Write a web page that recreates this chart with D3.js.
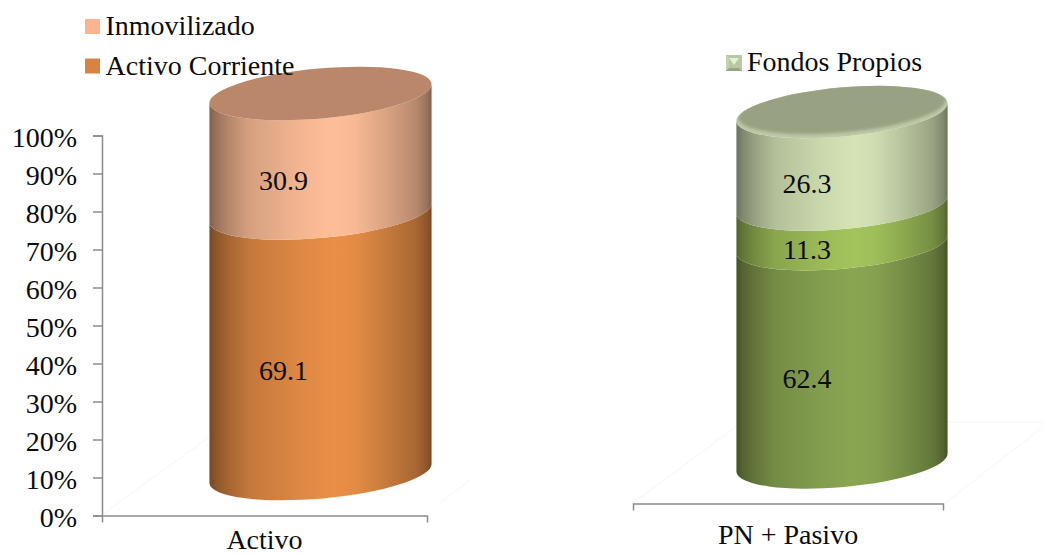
<!DOCTYPE html>
<html><head><meta charset="utf-8">
<script src="https://cdn.jsdelivr.net/npm/d3@7"></script>
<style>html,body{margin:0;padding:0;background:#fff;overflow:hidden}
text{font-family:"Liberation Serif","DejaVu Serif",serif;fill:#0c0c0c}</style></head>
<body><svg id="c" width="1043" height="555"></svg>
<script>
const yTicks = [0,10,20,30,40,50,60,70,80,90,100];
const activoCategory = ["Activo"];
const pasivoCategory = ["PN + Pasivo"];
const activoSeries = ["Activo Corriente","Inmovilizado"];
const activoValues = [69.1,30.9];
const activoColors = ["#e98f47","#ffbe98"];
const pasivoSeries = ["Pasivo","Pasivo Corriente","Fondos Propios"];
const pasivoValues = [62.4,11.3,26.3];
const pasivoColors = ["#8aa552","#a3c45c","#d5e3b6"];
const shadeStops = [[0,.5],[.03,.6],[.08,.7],[.18,.84],[.4,.95],[.56,1],[.66,.97],[.8,.85],[.93,.72],[.98,.6],[1,.5]];

const svg = d3.select("#c");
const defs = svg.append("defs");
const AXIS = "#8c8c8c", FS = 28, TILT = 5.1;
defs.append("filter").attr("id","soft").attr("x","-5%").attr("y","-15%").attr("width","110%").attr("height","130%")
  .append("feGaussianBlur").attr("stdDeviation",1.6);

function gradient(id,color){
  const g = defs.append("linearGradient").attr("id",id);
  const c = d3.rgb(color);
  shadeStops.forEach(([o,k])=>g.append("stop").attr("offset",o)
    .attr("stop-color",d3.rgb(c.r*k,c.g*k,c.b*k).formatHex()));
}
function faint(pts){
  svg.append("path").attr("d",d3.line()(pts)).attr("fill","none")
    .attr("stroke","#f4f4f4").attr("stroke-width",1);
}
faint([[103,514],[209,437]]); faint([[440,503],[470,480]]);
faint([[633,503],[736,427]]); faint([[945,503],[1043,427]]); faint([[948,422],[1043,422]]);

function cylinder(o){
  const y = d3.scaleLinear().domain([0,100]).range([o.bottom,o.top]);
  const r = o.rx, ry = o.ry, t = TILT*Math.PI/180;
  const dx = r*Math.cos(t), dy = r*Math.sin(t);
  const lowerArc = (cy,rev)=> rev
    ? `A${r},${ry} ${-TILT} 0 1 ${o.cx-dx},${cy+dy}`
    : `A${r},${ry} ${-TILT} 0 0 ${o.cx+dx},${cy-dy}`;
  let acc = 0;
  const bands = o.values.map((v,i)=>{
    const b = {v,i,y0:y(acc)+(i?o.nudge:0)};
    acc += v;
    b.y1 = y(acc)+(i<o.values.length-1?o.nudge:0);
    b.labelY = (b.y0+b.y1)/2 + o.labelOffset;
    return b;
  });
  o.colors.forEach((c,i)=>gradient(o.id+i,c));
  svg.append("g").selectAll("path").data(bands).join("path")
    .attr("d",b=>`M${o.cx-dx},${b.y1+dy}${lowerArc(b.y1,false)}L${o.cx+dx},${b.y0-dy}${lowerArc(b.y0,true)}Z`)
    .attr("fill",b=>`url(#${o.id}${b.i})`);
  const top = bands[bands.length-1].y1;
  const rot = `rotate(${-TILT} ${o.cx} ${top})`;
  svg.append("ellipse").attr("cx",o.cx).attr("cy",top).attr("rx",r).attr("ry",ry)
    .attr("transform",rot).attr("fill",o.rim || o.cap);
  if(o.rim){
    const cid = o.id+"clip";
    defs.append("clipPath").attr("id",cid).append("ellipse").attr("cx",o.cx).attr("cy",top).attr("rx",r).attr("ry",ry).attr("transform",rot);
    svg.append("g").attr("clip-path",`url(#${cid})`).append("ellipse")
      .attr("cx",o.cx).attr("cy",top-3).attr("rx",r-2).attr("ry",ry-1)
      .attr("transform",`rotate(${-TILT} ${o.cx} ${top-3})`).attr("fill",o.cap).attr("filter","url(#soft)");
  }
  svg.append("g").selectAll("text").data(bands).join("text")
    .attr("x",o.cx-o.labelShift).attr("y",b=>b.labelY).attr("dy","0.35em")
    .attr("text-anchor","middle").attr("font-size",FS).text(b=>b.v.toFixed(1));
}
cylinder({id:"a",cx:320.5,rx:111.5,ry:25,top:93.5,bottom:473.5,nudge:2,labelOffset:27,labelShift:37,values:activoValues,colors:activoColors,cap:"#ba876a"});
cylinder({id:"p",cx:842,rx:106,ry:24.5,top:112,bottom:462.5,nudge:0.5,labelOffset:24.5,labelShift:35,values:pasivoValues,colors:pasivoColors,cap:"#98a283",rim:"#bcc8a6"});

function styleAxis(g){
  g.selectAll("path,line").attr("stroke",AXIS).attr("stroke-width",1.5);
  g.selectAll("text").attr("font-size",FS).attr("fill","#0c0c0c")
    .style("font-family",'"Liberation Serif","DejaVu Serif",serif');
}
const yAxisScale = d3.scaleLinear().domain([0,100]).range([515.5,135.5]);
svg.append("g").attr("transform","translate(102,0)")
  .call(d3.axisLeft(yAxisScale).tickValues(yTicks).tickFormat(d=>d+"%").tickSize(9).tickSizeOuter(9).tickPadding(16))
  .call(styleAxis).selectAll("text").attr("dy","0.41em");
const xA = d3.scaleBand().domain(activoCategory).range([102,427]);
svg.append("g").attr("transform","translate(0,515.5)")
  .call(d3.axisBottom(xA).tickSize(0).tickSizeOuter(7).tickPadding(13))
  .call(styleAxis).selectAll("text").attr("dy","0.72em");
const xP = d3.scaleBand().domain(pasivoCategory).range([633,943]);
svg.append("g").attr("transform","translate(0,503.5)")
  .call(d3.axisBottom(xP).tickSize(0).tickSizeOuter(7).tickPadding(20))
  .call(styleAxis).selectAll("text").attr("dy","0.72em");

const legA = [{name:activoSeries[1],y:35,c:"#fbb48e",sy:26.5},{name:activoSeries[0],y:75,c:"#d98343",sy:66}];
svg.append("g").selectAll("rect").data(legA).join("rect")
  .attr("x",85).attr("y",d=>d.sy-7.5).attr("width",15).attr("height",15).attr("fill",d=>d.c);
svg.append("g").selectAll("text").data(legA).join("text")
  .attr("x",105.5).attr("y",d=>d.y).attr("font-size",FS).text(d=>d.name);
const sw = svg.append("g").attr("transform","translate(726,55)");
sw.append("rect").attr("width",16).attr("height",16).attr("fill","#b9c6a1");
sw.append("path").attr("d","M0,0L3,3V13L0,16Z").attr("fill","#c4d0ae");
sw.append("path").attr("d","M16,0L13,3V13L16,16Z").attr("fill","#bac7a3");
sw.append("path").attr("d","M3,3H13L8,10Z").attr("fill","#e6eed8");
sw.append("path").attr("d","M0,16L3,13H13L16,16Z").attr("fill","#98a582");
svg.append("text").attr("x",747).attr("y",71).attr("font-size",FS).text(pasivoSeries[2]);
</script></body></html>
